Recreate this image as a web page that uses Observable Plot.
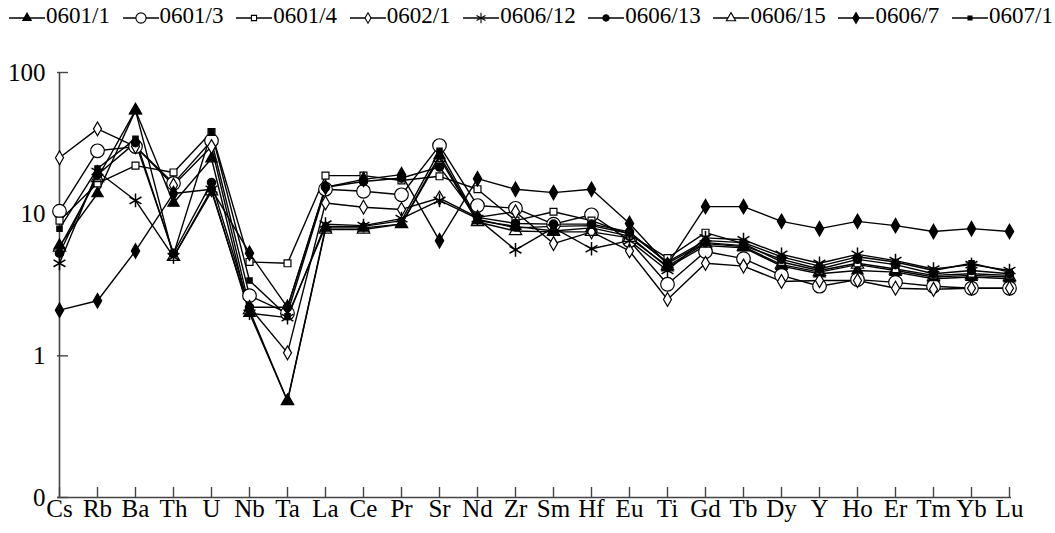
<!DOCTYPE html>
<html>
<head>
<meta charset="utf-8">
<script src="https://cdn.jsdelivr.net/npm/d3@7"></script>
<script src="https://cdn.jsdelivr.net/npm/@observablehq/plot@0.6"></script>
<style>
  html, body { margin: 0; padding: 0; background: #fff; }
  body { width: 1055px; height: 533px; overflow: hidden; font-family: "Liberation Serif", "Times New Roman", Times, serif; }
  #legend { height: 32px; display: flex; justify-content: space-between; align-items: center; padding: 0 2px 0 8px; box-sizing: border-box; font-size: 23px; color: #000; }
  .item { display: flex; align-items: center; white-space: nowrap; }
  .item svg { display: block; }
  #chart svg text { font-family: "Liberation Serif", "Times New Roman", Times, serif; }
</style>
</head>
<body>
<div id="legend"></div>
<div id="chart"></div>
<script>
const elements = ["Cs","Rb","Ba","Th","U","Nb","Ta","La","Ce","Pr","Sr","Nd","Zr","Sm","Hf","Eu","Ti","Gd","Tb","Dy","Y","Ho","Er","Tm","Yb","Lu"];
const seriesNames = ["0601/1","0601/3","0601/4","0602/1","0606/12","0606/13","0606/15","0606/7","0607/1"];

const s0601_1  = [6, 14, 54, 12, 24.7, 2.0, 0.48, 8, 8, 8.5, 26, 9, 8.2, 7.6, 8, 7, 4.2, 6.0, 5.8, 4.3, 3.8, 4.0, 3.9, 3.5, 3.6, 3.5];
const s0601_3  = [10.5, 28, 30, 16.5, 33, 2.66, 2.0, 15, 14.5, 13.7, 30.5, 11.5, 11, 8.5, 9.9, 6.5, 3.2, 5.45, 4.85, 3.7, 3.1, 3.45, 3.3, 3.1, 3.0, 3.0];
const s0601_4  = [9, 16.5, 22, 19.7, 38, 4.6, 4.5, 18.7, 18.7, 17.3, 18.5, 15, 9, 10.4, 9, 7.2, 4.9, 7.4, 6.2, 4.6, 4.0, 4.5, 4.1, 3.7, 3.8, 3.7];
const s0602_1  = [25, 40, 30, 16, 30, 2.2, 1.05, 12, 11.2, 10.8, 13, 9.5, 10.4, 6.2, 7.5, 5.5, 2.5, 4.5, 4.3, 3.35, 3.4, 3.4, 3.0, 2.95, 3.0, 3.0];
const s0606_12 = [4.5, 20, 12.5, 5, 15, 2.0, 1.86, 8.5, 8.3, 9.3, 12.5, 9.3, 5.6, 8, 5.7, 6.5, 4.0, 6.8, 6.6, 5.2, 4.5, 5.2, 4.7, 4.1, 4.4, 4.0];
const s0606_13 = [5.3, 19, 32, 5.3, 16.7, 2.2, 2.2, 15.5, 17, 18, 21.5, 9.5, 8.6, 8.5, 8.5, 7.5, 4.5, 6.3, 6.0, 4.8, 4.1, 4.8, 4.4, 3.8, 4.0, 3.8];
const s0606_15 = [5.8, 18, 54, 5, 14.5, 2.1, 0.48, 7.8, 7.8, 8.5, 25, 8.8, 7.6, 7.5, 7.5, 6.8, 4.3, 6.2, 5.9, 4.4, 3.9, 4.4, 4.0, 3.6, 3.7, 3.6];
const s0606_7  = [2.1, 2.45, 5.5, 14, 15, 5.3, 2.2, 15.5, 17.6, 19, 6.5, 17.8, 15, 14.2, 15, 8.6, 4.4, 11.3, 11.3, 8.9, 7.9, 8.9, 8.3, 7.55, 7.9, 7.55];
const s0607_1  = [7.9, 21, 34, 5.2, 38, 3.4, 1.9, 8.2, 8.2, 9, 28, 9.2, 8, 8.2, 8.3, 7.3, 4.6, 6.5, 6.3, 5.0, 4.3, 5.0, 4.6, 4.0, 4.5, 3.9];

const yTicks = [0.1, 1, 10, 100];
const yTickLabels = ["0", "1", "10", "100"];

const seriesValues = [s0601_1, s0601_3, s0601_4, s0602_1, s0606_12, s0606_13, s0606_15, s0606_7, s0607_1];

// marker styles
const styles = [
  {symbol: "triangle", fill: "black", r: 4.2},
  {symbol: "circle",   fill: "white", r: 6.8},
  {symbol: "square",   fill: "white", r: 3.9},
  {symbol: "diamond",  fill: "white", r: 4.2},
  {symbol: "asterisk", fill: "none",  r: 6.5},
  {symbol: "circle",   fill: "black", r: 4.2},
  {symbol: "triangle", fill: "none",  r: 4.6},
  {symbol: "diamond",  fill: "black", r: 4.4},
  {symbol: "square",   fill: "black", r: 3.0}
];

const tables = seriesNames.map((name, i) =>
  elements.map((el, j) => ({series: name, element: el, value: seriesValues[i][j]}))
);

const font = "'Liberation Serif', 'Times New Roman', Times, serif";
const marks = [];
tables.forEach(t => marks.push(Plot.line(t, {x: "element", y: "value", stroke: "black", strokeWidth: 1.4})));
tables.forEach((t, i) => {
  const s = styles[i];
  marks.push(Plot.dot(t, {x: "element", y: "value", symbol: s.symbol, r: s.r, fill: s.fill, stroke: "black", strokeWidth: s.symbol === "asterisk" ? 1.5 : 1.2}));
});

const chart = Plot.plot({
  width: 1055,
  height: 501,
  marginLeft: 57,
  marginRight: 44,
  marginTop: 40,
  marginBottom: 36,
  style: {fontFamily: font, fontSize: "25px", color: "black", background: "white"},
  x: {type: "point", domain: elements, padding: 0, label: null},
  y: {type: "log", domain: [0.1, 100], label: null},
  marks: [
    Plot.ruleX([elements[0]], {stroke: "#444", strokeWidth: 1.6}),
    Plot.ruleY([0.1], {stroke: "#444", strokeWidth: 1.6}),
    Plot.axisY({ticks: yTicks, tickFormat: (d) => yTickLabels[yTicks.indexOf(d)], tickSize: -11, tickPadding: 23, stroke: "#444", strokeWidth: 1.4, fontSize: 25}),
    Plot.axisX({tickSize: -10, tickPadding: 12, stroke: "#444", strokeWidth: 1.4, fontSize: 25}),
    ...marks
  ]
});
document.getElementById("chart").appendChild(chart);

// legend
const symbolTypes = {triangle: d3.symbolTriangle, circle: d3.symbolCircle, square: d3.symbolSquare, diamond: d3.symbolDiamond, asterisk: d3.symbolAsterisk};
const legend = d3.select("#legend");
seriesNames.forEach((name, i) => {
  const s = styles[i];
  const item = legend.append("div").attr("class", "item");
  const svg = item.append("svg").attr("width", 38).attr("height", 20);
  svg.append("line").attr("x1", 1).attr("x2", 37).attr("y1", 12).attr("y2", 12).attr("stroke", "black").attr("stroke-width", 1.4);
  svg.append("path")
    .attr("transform", "translate(19,12)")
    .attr("d", d3.symbol(symbolTypes[s.symbol], Math.PI * (s.r * 0.75) ** 2)())
    .attr("fill", s.fill === "none" ? "white" : s.fill).attr("stroke", "black").attr("stroke-width", 1.1);
  item.append("span").text(name);
});
</script>
</body>
</html>
